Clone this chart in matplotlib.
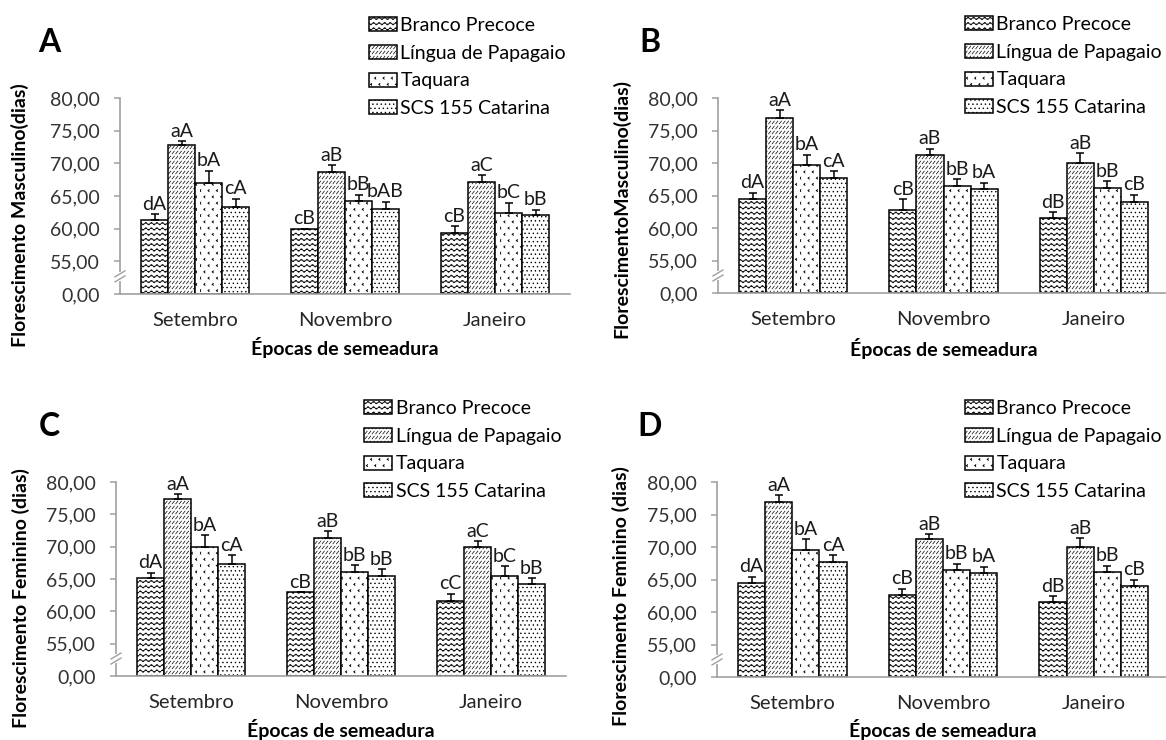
import warnings
import numpy as np
import matplotlib
matplotlib.use("Agg")
import matplotlib.pyplot as plt
import matplotlib.hatch as mhatch
from matplotlib.path import Path

warnings.filterwarnings("ignore")

# -------------------------
# Data
# -------------------------
cultivares = ["Branco Precoce", "Língua de Papagaio", "Taquara", "SCS 155 Catarina"]
epocas = ["Setembro", "Novembro", "Janeiro"]

# rows = cultivares, cols = epocas
media_A = [[61.30, 60.00, 59.35],
           [72.80, 68.70, 67.20],
           [67.00, 64.20, 62.40],
           [63.30, 63.00, 62.10]]
erro_A = [[0.90, 0.00, 1.00],
          [0.60, 1.00, 1.00],
          [1.90, 1.00, 1.60],
          [1.30, 1.10, 0.80]]
letras_A = [["dA", "cB", "cB"],
            ["aA", "aB", "aC"],
            ["bA", "bB", "bC"],
            ["cA", "bAB", "bB"]]

media_B = [[64.46, 62.70, 61.50],
           [77.00, 71.30, 70.00],
           [69.70, 66.50, 66.10],
           [67.70, 66.00, 64.05]]
erro_B = [[0.95, 1.70, 0.90],
          [1.10, 0.90, 1.50],
          [1.60, 1.00, 1.10],
          [1.05, 1.00, 1.05]]
letras_B = [["dA", "cB", "dB"],
            ["aA", "aB", "aB"],
            ["bA", "bB", "bB"],
            ["cA", "bA", "cB"]]

media_C = [[65.10, 63.00, 61.65],
           [77.40, 71.40, 69.90],
           [69.90, 66.10, 65.50],
           [67.35, 65.50, 64.20]]
erro_C = [[0.90, 0.00, 1.05],
          [0.70, 1.00, 0.90],
          [1.85, 1.00, 1.50],
          [1.35, 1.00, 0.90]]
letras_C = [["dA", "cB", "cC"],
            ["aA", "aB", "aC"],
            ["bA", "bB", "bC"],
            ["cA", "bB", "bB"]]

media_D = [[64.50, 62.65, 61.50],
           [76.90, 71.20, 69.95],
           [69.60, 66.50, 66.10],
           [67.65, 65.97, 64.00]]
erro_D = [[0.95, 0.95, 0.90],
          [1.05, 0.80, 1.45],
          [1.60, 0.95, 1.00],
          [1.05, 1.00, 1.00]]
letras_D = [["dA", "cB", "dB"],
            ["aA", "aB", "aB"],
            ["bA", "bB", "bB"],
            ["cA", "bA", "cB"]]

yticks = [0, 55, 60, 65, 70, 75, 80]


# -------------------------
# Custom hatches (Excel-like patterns)
# -------------------------
class WaveHatch(mhatch.HatchPatternBase):
    def __init__(self, hatch, density):
        self.num_lines = int(hatch.count("~") * 19)
        self.periods = 18
        self.npts = self.periods * 6 + 1
        self.num_vertices = self.num_lines * self.npts

    def set_vertices_and_codes(self, vertices, codes):
        xs = np.linspace(0, 1, self.npts)
        wave = (0.25 / self.num_lines) * np.sin(2 * np.pi * self.periods * xs)
        for i in range(self.num_lines):
            s = slice(i * self.npts, (i + 1) * self.npts)
            vertices[s, 0] = xs
            vertices[s, 1] = (i + 0.5) / self.num_lines + wave
            codes[s] = Path.LINETO
            codes[i * self.npts] = Path.MOVETO


class DashHatch(mhatch.HatchPatternBase):
    # rows of short "/" strokes
    def __init__(self, hatch, density):
        n = hatch.count("z")
        self.rows = int(n * 20)
        self.cols = int(n * 28)
        self.num_vertices = self.rows * self.cols * 2

    def set_vertices_and_codes(self, vertices, codes):
        k = 0
        for r in range(self.rows):
            y = (r + 0.5) / self.rows
            for c in range(self.cols):
                x = (c + 0.5) / self.cols
                vertices[k] = (x - 0.011, y - 0.014)
                vertices[k + 1] = (x + 0.011, y + 0.014)
                codes[k] = Path.MOVETO
                codes[k + 1] = Path.LINETO
                k += 2


class ChevronHatch(mhatch.HatchPatternBase):
    def __init__(self, hatch, density):
        n = hatch.count("<")
        self.rows = int(n * 16)
        self.cols = int(n * 12)
        self.num_vertices = self.rows * self.cols * 3

    def set_vertices_and_codes(self, vertices, codes):
        k = 0
        for r in range(self.rows):
            y = (r + 0.5) / self.rows
            off = 0.5 if r % 2 else 0.0
            for c in range(self.cols):
                x = ((c + 0.5 + off) / self.cols) % 1.0
                vertices[k] = (x + 0.009, y + 0.011)
                vertices[k + 1] = (x - 0.005, y)
                vertices[k + 2] = (x + 0.009, y - 0.011)
                codes[k] = Path.MOVETO
                codes[k + 1] = Path.LINETO
                codes[k + 2] = Path.LINETO
                k += 3


mhatch._hatch_types.extend([WaveHatch, DashHatch, ChevronHatch])

hatches = ["~", "z", "<", "...."]

# -------------------------
# Broken y axis: 0 .. 55 squeezed into one tick step
# -------------------------
def fwd(v):
    v = np.asarray(v, dtype=float)
    return np.where(v >= 55, v - 50, v * 5.0 / 55.0)


def inv(d):
    d = np.asarray(d, dtype=float)
    return np.where(d >= 5, d + 50, d * 55.0 / 5.0)


plt.rcParams["font.family"] = ["Lato", "DejaVu Sans"]
plt.rcParams["hatch.linewidth"] = 0.5

W, H = 1166, 740
fig = plt.figure(figsize=(W / 100, H / 100), dpi=100)

# pixel layout of each panel
paineis = [
    dict(letra="A", media=media_A, erro=erro_A, letras=letras_A,
         ylabel="Florescimento Masculino(dias)",
         box=(120, 98, 570, 294), xmax=2.5, letra_xy=(49, 43),
         ylab_xy=(20, 215), leg_xy=(369, 17), xlab_y=348),
    dict(letra="B", media=media_B, erro=erro_B, letras=letras_B,
         ylabel="FlorescimentoMasculino(dias)",
         box=(718, 98, 1166, 293), xmax=2.48, letra_xy=(650, 43),
         ylab_xy=(621, 208), leg_xy=(965, 16), xlab_y=348),
    dict(letra="C", media=media_C, erro=erro_C, letras=letras_C,
         ylabel="Florescimento Feminino (dias)",
         box=(116, 482, 566, 676), xmax=2.5, letra_xy=(49, 427),
         ylab_xy=(21, 598), leg_xy=(364, 400), xlab_y=730),
    dict(letra="D", media=media_D, erro=erro_D, letras=letras_D,
         ylabel="Florescimento Feminino (dias)",
         box=(717, 482, 1166, 677), xmax=2.48, letra_xy=(650, 427),
         ylab_xy=(621, 596), leg_xy=(965, 400), xlab_y=730),
]

largura = 0.18
x = np.arange(len(epocas))
cinza = "#a0a0a0"

for p in paineis:
    l, t, r, b = p["box"]
    ax_w, ax_h = r - l, b - t
    ax = fig.add_axes([l / W, 1 - b / H, ax_w / W, ax_h / H])
    ax.set_yscale("function", functions=(fwd, inv))
    ax.set_ylim(0, 80)
    ax.set_xlim(-0.5, p["xmax"])

    handles = []
    for i, cult in enumerate(cultivares):
        pos = x + (i - 1.5) * largura
        med = np.array(p["media"][i])
        err = np.array(p["erro"][i])
        bars = ax.bar(pos, med, largura, color="white", edgecolor="black",
                      linewidth=1.1, hatch=hatches[i], label=cult, zorder=2)
        handles.append(bars)
        ax.errorbar(pos, med, yerr=[np.zeros_like(err), err], fmt="none",
                    ecolor="black", elinewidth=1.1, capsize=3, capthick=1.1,
                    zorder=3)
        for xi, top, lab in zip(pos, med + err, p["letras"][i]):
            ax.annotate(lab, (xi, top), xytext=(0, 1), textcoords="offset points",
                        ha="center", va="bottom", fontsize=14, color="#1a1a1a")

    # axes styling
    for s in ["top", "right"]:
        ax.spines[s].set_visible(False)
    for s in ["left", "bottom"]:
        ax.spines[s].set_color(cinza)
        ax.spines[s].set_linewidth(1.2)
    ax.set_yticks(yticks)
    ax.set_yticklabels([f"{v:.2f}".replace(".", ",") for v in yticks])
    ax.yaxis.set_minor_locator(matplotlib.ticker.NullLocator())
    ax.tick_params(axis="y", length=4.3, width=1.1, color=cinza, pad=10.5,
                   labelsize=14, labelcolor="#333333")
    ax.set_xticks(x)
    ax.set_xticklabels(epocas)
    ax.tick_params(axis="x", length=0, pad=13, labelsize=14.5, labelcolor="#262626")

    ax.set_xlabel("Épocas de semeadura", fontsize=14, fontweight="bold")
    ax.xaxis.label.set_va("center")
    ax.xaxis.set_label_coords(1.5 / (p["xmax"] + 0.5), -(p["xlab_y"] - b) / ax_h)
    ax.set_ylabel(p["ylabel"], fontsize=14, fontweight="bold")
    ax.yaxis.label.set_va("center")
    ax.yaxis.set_label_coords((p["ylab_xy"][0] - l) / ax_w, (b - p["ylab_xy"][1]) / ax_h)

    # axis break marks
    yb = 2.7 / 30.0
    dx, dy, g = 5.0 / ax_w, 3.0 / ax_h, 2.5 / ax_h
    ax.plot([0, 0], [yb - g, yb + g], color="white", lw=3,
            transform=ax.transAxes, clip_on=False, zorder=5)
    for off in (-g, g):
        ax.plot([-dx, dx], [yb + off - dy, yb + off + dy], color=cinza, lw=1.0,
                transform=ax.transAxes, clip_on=False, zorder=6)

    # legend
    lx, ly = p["leg_xy"]
    ax.legend(handles=handles, loc="upper left", bbox_to_anchor=(lx / W, 1 - ly / H),
              bbox_transform=fig.transFigure, frameon=False, fontsize=14,
              borderpad=0, borderaxespad=0, handlelength=1.42, handleheight=0.72,
              handletextpad=0.2, labelspacing=0.55)

    fig.text(p["letra_xy"][0] / W, 1 - p["letra_xy"][1] / H, p["letra"],
             fontsize=23, fontweight="bold", ha="center", va="center")

fig.savefig("out.png", dpi=100)
